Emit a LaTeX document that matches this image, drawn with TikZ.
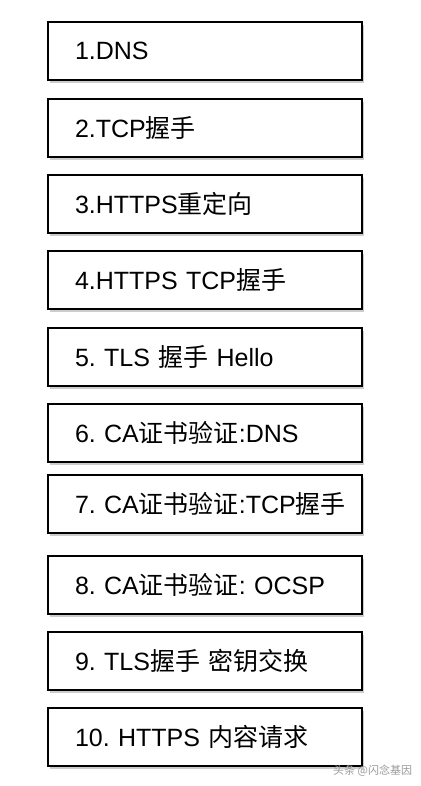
\documentclass[tikz,border=0pt]{standalone}
\usepackage{fontspec}
\setmainfont{Liberation Sans}
\newfontfamily\cjk{Noto Sans CJK SC}
\usetikzlibrary{shadows}
\frenchspacing
\begin{document}
\begin{tikzpicture}[x=1pt,y=-1pt,
  stepbox/.style={draw=black, line width=2.4pt, fill=white, rectangle,
    minimum width=314pt, minimum height=58pt, inner xsep=0pt, inner ysep=0pt,
    text width=314pt, align=left,
    font=\fontsize{25}{30}\selectfont\frenchspacing,
    execute at begin node={\hspace*{27pt}},
    drop shadow={opacity=0.4, shadow xshift=2pt, shadow yshift=-3pt}}]
\useasboundingbox (0,0) rectangle (420,786);
\fill[white] (0,0) rectangle (420,786);
\node[stepbox] (b1) at (205,51) {1.DNS};
\node[stepbox] (b2) at (205,128) {2.TCP{\cjk 握手}};
\node[stepbox] (b3) at (205,204) {3.HTTPS{\cjk 重定向}};
\node[stepbox] (b4) at (205,280) {4.HTTPS TCP{\cjk 握手}};
\node[stepbox] (b5) at (205,357) {5. TLS {\cjk 握手} Hello};
\node[stepbox] (b6) at (205,433) {6. CA{\cjk 证书验证}:DNS};
\node[stepbox] (b7) at (205,504) {7. CA{\cjk 证书验证}:TCP{\cjk 握手}};
\node[stepbox] (b8) at (205,585) {8. CA{\cjk 证书验证}: OCSP};
\node[stepbox] (b9) at (205,661) {9. TLS{\cjk 握手 密钥交换}};
\node[stepbox] (b10) at (205,737) {10. HTTPS {\cjk 内容请求}};
\node[text=gray!80, font=\fontsize{11}{13}\selectfont\cjk, inner sep=0pt, anchor=west] (wm) at (333,771) {头条 @闪念基因};
\end{tikzpicture}
\end{document}
